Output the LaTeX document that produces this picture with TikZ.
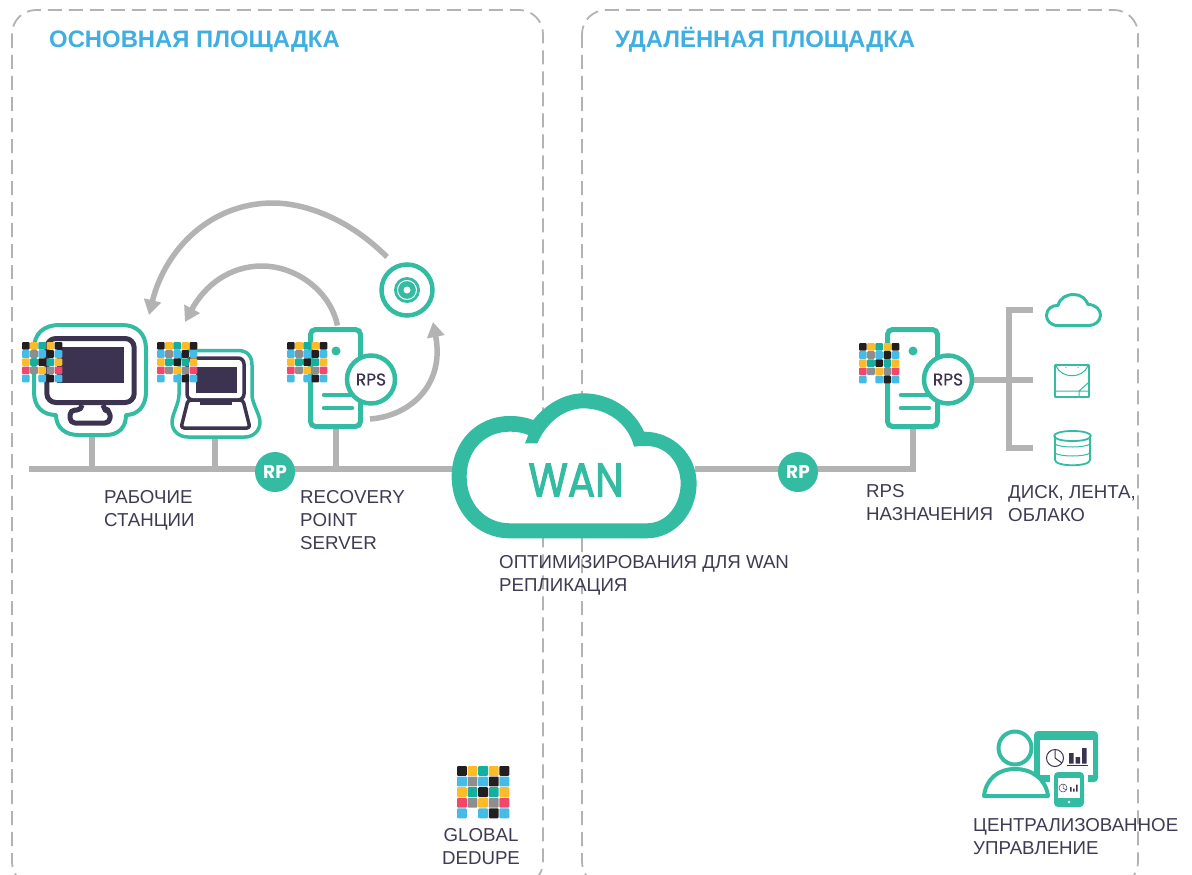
\documentclass[tikz,border=0pt]{standalone}
\usepackage{fontspec}
\usepackage{graphicx}
\setmainfont{Liberation Sans}
\newfontfamily\roundfont[FakeBold=0.5]{Poppins}
\newfontfamily\wanfont[FakeBold=2.5]{Poppins}
\newfontfamily\roundplain{Poppins}
\usetikzlibrary{arrows.meta,backgrounds}
\definecolor{teal1}{HTML}{33BCA2}
\definecolor{greyl}{HTML}{B3B3B3}
\definecolor{ink}{HTML}{3B3350}
\definecolor{head}{HTML}{3FAEE0}
\definecolor{txt}{HTML}{3F3B52}
\definecolor{pk}{HTML}{231F20}
\definecolor{py}{HTML}{FDBB27}
\definecolor{pt}{HTML}{13B0A0}
\definecolor{pb}{HTML}{45BBE8}
\definecolor{pg}{HTML}{8E8E8E}
\definecolor{pr}{HTML}{F0476A}
\tikzset{
 panel/.style={draw=greyl,line width=1.8pt,dash pattern=on 14pt off 7pt,rounded corners=24pt},
 busline/.style={draw=greyl,line width=6pt},
 arcline/.style={draw=greyl,line width=5.5pt,-{Triangle[length=15pt,width=17pt]}},
 rpnode/.style={circle,fill=teal1,text=white,minimum size=40pt,inner sep=0pt,font=\roundplain\bfseries\fontsize{18.5}{18.5}\selectfont},
 rpsnode/.style={circle,draw=teal1,fill=white,line width=4.5pt,text=ink,minimum size=48pt,inner sep=0pt,font=\roundfont\fontsize{17}{17}\selectfont},
 srv/.style={draw=teal1,fill=white,line width=5pt,rounded corners=5pt},
 tl/.style={draw=teal1,line width=4.5pt,line cap=round},
 ic/.style={draw=teal1,line width=2.8pt,line join=round},
 label/.style={text=txt,align=left,anchor=north west,inner sep=0pt,font=\fontsize{18.7}{23}\selectfont},
 headt/.style={text=head,anchor=base west,inner sep=0pt,font=\bfseries\fontsize{23.85}{26}\selectfont},
 pix/.style={rounded corners=1pt},
}
\newcommand{\pixgrid}[3]{% x, y, pitch
 \begin{scope}[shift={(#1,#2)},x=#3pt,y=-#3pt]
  \foreach \c/\i/\j in {pk/0/0,py/1/0,pt/2/0,py/3/0,pk/4/0,
    pb/0/1,pg/1/1,pb/2/1,pk/3/1,pb/4/1,
    py/0/2,pt/1/2,pk/2/2,pt/3/2,py/4/2,
    pr/0/3,pg/1/3,py/2/3,pg/3/3,pr/4/3,
    pb/0/4,pb/2/4,pk/3/4,pb/4/4}
   \fill[\c,pix] (\i,\j) rectangle +(0.93,0.93);
 \end{scope}}
\newcommand{\server}[3]{% x, y, name prefix
 \begin{scope}[shift={(#1,#2)}]
  \draw[srv] (0,0) rectangle (50,97);
  \fill[teal1] (25.5,21.5) circle (4.5);
  \draw[tl] (13.5,65.5) -- (40,65.5);
  \draw[tl] (13.5,78.5) -- (41.5,78.5);
  \node[rpsnode] (#3rps) at (60.5,50) {RPS};
  \coordinate (#3top) at (27,-4);
  \coordinate (#3bot) at (25.5,97);
 \end{scope}}
\begin{document}
\begin{tikzpicture}[x=1pt,y=-1pt]
\useasboundingbox (0,0) rectangle (1192,875);
\begin{pgfonlayer}{background}
\fill[white] (0,0) rectangle (1192,875);
\end{pgfonlayer}
% panels
\begin{scope}
\clip (0,0) rectangle (1192,875);
\draw[panel] (12,10) rectangle (543,886);
\draw[panel] (582,10) rectangle (1138,886);
\end{scope}
\node[headt] (h1) at (49,48) {ОСНОВНАЯ ПЛОЩАДКА};
\node[headt] (h2) at (615,48) {УДАЛЁННАЯ ПЛОЩАДКА};
% WAN cloud
\begin{scope}[shift={(440,380)},x=0.3333pt,y=-0.3333pt]
\fill[white] (210,450) -- (620,450) -- (745,310) -- (600,180) -- (430,60) -- (280,140) -- (210,130) -- (60,290) -- cycle;
\fill[teal1,even odd rule]
 (210,475) .. controls (110,475) and (35,395) .. (35,290)
 .. controls (35,185) and (110,108) .. (210,108)
 .. controls (235,108) and (258,112) .. (280,120)
 .. controls (320,70) and (375,40) .. (430,40)
 .. controls (510,40) and (580,85) .. (612,155)
 .. controls (700,155) and (770,225) .. (770,310)
 .. controls (770,400) and (705,475) .. (620,475) -- cycle
 (210,430) .. controls (135,430) and (80,370) .. (80,290)
 .. controls (80,210) and (135,155) .. (210,155)
 .. controls (228,155) and (250,158) .. (265,165)
 -- (255,190) -- (292,190)
 .. controls (320,125) and (375,85) .. (430,85)
 .. controls (500,85) and (565,130) .. (582,200)
 .. controls (595,198) and (608,198) .. (620,198)
 .. controls (680,198) and (722,250) .. (722,310)
 .. controls (722,375) and (680,430) .. (620,430) -- cycle;
\end{scope}
\node[inner sep=0pt,text=teal1,font=\wanfont\fontsize{47}{47}\selectfont] (wanlabel) at (576,480) {\scalebox{0.86}[1]{WAN}};
\coordinate (wanw) at (453,469);
\coordinate (wane) at (695,469);
% RP badges
\node[rpnode] (rp1) at (275,472) {RP};
\node[rpnode] (rp2) at (798,472) {RP};
% desktop
\coordinate (deskbot) at (92,437);
\draw[draw=teal1,line width=4pt,line join=round]
 (60,325) -- (122,325)
 .. controls (137,325) and (146,334) .. (146,349) -- (146,392)
 .. controls (146,407) and (137,415) .. (126,415)
 .. controls (126,428) and (118,435) .. (106,435) -- (78,435)
 .. controls (66,435) and (56,428) .. (56,415)
 .. controls (43,415) and (34,407) .. (34,392) -- (34,349)
 .. controls (34,334) and (43,325) .. (60,325) -- cycle;
\draw[ink,line width=5pt,rounded corners=9pt] (46.8,338.5) rectangle (134.2,402.5);
\fill[ink] (57,347) rectangle (124,383);
\draw[ink,line width=5pt,line join=round,rounded corners=5pt] (82,405) -- (82,410) -- (70,410) -- (70,423) -- (110,423) -- (110,410) -- (103,410) -- (103,405);
% laptop
\coordinate (lapbot) at (215,438);
\draw[draw=teal1,line width=3.5pt,line join=round]
 (192,350.5) -- (238,350.5) .. controls (247,350.5) and (252,356) .. (252,365)
 -- (252,395) .. controls (252,403) and (260,415) .. (260,422)
 .. controls (260,431) and (253,437) .. (245,437) -- (188,437)
 .. controls (179,437) and (172,431) .. (172,422)
 .. controls (172,415) and (179,403) .. (179,395) -- (179,365)
 .. controls (179,356) and (184,350.5) .. (192,350.5) -- cycle;
\draw[ink,line width=3.5pt,rounded corners=6pt] (187,358) -- (244,358) -- (244,400) -- (187,400) -- cycle;
\fill[ink] (196,367) rectangle (237,393);
\fill[ink] (200,400) rectangle (232,405);
\draw[ink,line width=3.5pt,line join=round,rounded corners=3pt] (188,400) -- (243,400) -- (250,428) -- (181,428) -- cycle;
% servers
\server{310.5}{329.5}{a}
\server{887.5}{329.5}{b}
% disc
\node[circle,draw=teal1,fill=white,line width=4.5pt,minimum size=51pt,inner sep=0pt] (disc) at (407,290) {};
\fill[teal1] (disc.center) circle (13);
\draw[white,line width=1pt] (disc.center) circle (9.5);
\fill[white] (disc.center) circle (3.5);
% pixel grids
\pixgrid{22}{342}{8.17}
\pixgrid{157}{342}{8.17}
\pixgrid{287}{342}{8.17}
\pixgrid{859}{343}{8.17}
\node[minimum size=53pt,inner sep=0pt] (dedupe) at (483,792) {};
\pixgrid{457}{766}{10.6}
% storage icons
\draw[ic,line width=3pt] (1058,325.5) .. controls (1050,325.5) and (1046.5,320) .. (1046.5,315.5)
 .. controls (1046.5,309) and (1052,305) .. (1058,305.5)
 .. controls (1060,298) and (1066,294.5) .. (1074,294.5)
 .. controls (1081,294.5) and (1086,299) .. (1088,304.5)
 .. controls (1096,304.5) and (1100.5,310) .. (1100.5,315)
 .. controls (1100.5,321) and (1095,325.5) .. (1089,325.5) -- cycle;
\coordinate (cloudicon) at (1033,310);
\draw[ic,line width=1.8pt,rounded corners=0.5pt] (1055,365) rectangle (1089,397);
\draw[teal1,line width=1pt] (1056,366) .. controls (1062,379) and (1082,379) .. (1088,366);
\draw[teal1,line width=1pt] (1056,391) -- (1088,391) (1079,391) -- (1079,397) (1079,391) -- (1088,383);
\fill[teal1] (1066,367.5) circle (0.7) (1078,367.5) circle (0.7);
\coordinate (tapeicon) at (1033,379.5);
\draw[ic,line width=1.8pt] (1055,436) -- (1055,460) .. controls (1055,467) and (1090,467) .. (1090,460) -- (1090,436);
\draw[ic,line width=1.8pt] (1072.5,431) .. controls (1097,431) and (1097,441) .. (1072.5,441) .. controls (1048,441) and (1048,431) .. (1072.5,431) -- cycle;
\draw[teal1,line width=1pt] (1055,444) .. controls (1060,448) and (1085,448) .. (1090,444)
 (1055,453) .. controls (1060,457) and (1085,457) .. (1090,453);
\coordinate (diskicon) at (1033,448);
% user / management
\fill[teal1,rounded corners=4pt] (1034,731) rectangle (1098,782);
\fill[white] (1040,740) rectangle (1093,775);
\draw[ic,line width=4pt,fill=white] (1015,748) circle (16.5);
\draw[ic,line width=4pt,fill=white] (984,796) .. controls (986,779) and (998,769) .. (1015,769)
 .. controls (1032,769) and (1046,779) .. (1048,796) -- cycle;
\draw[ink,line width=1pt] (1055,758) circle (8.5);
\draw[ink,line width=1pt] (1055,758) -- (1055,749.5) (1055,758) -- (1062,763) ;
\fill[ink] (1069,753) rectangle (1073.5,763.5) (1075.5,757) rectangle (1080,763.5) (1082,748) rectangle (1086.5,763.5);
\draw[ink,line width=.7pt] (1067,765.5) -- (1088,765.5);
\fill[white] (1050,769) rectangle (1088,785);
\fill[teal1,rounded corners=4pt] (1054,772) rectangle (1084,807);
\fill[white] (1058,778) rectangle (1080,798);
\draw[ink,line width=.5pt] (1063,788) circle (4);
\draw[ink,line width=.5pt] (1063,788) -- (1063,784) (1063,788) -- (1066,790);
\fill[ink] (1070,787) rectangle (1071.5,791.5) (1073,788.5) rectangle (1074.5,791.5) (1076,784.5) rectangle (1077.5,791.5);
\fill[white] (1069,802) circle (1.3);
% labels
\node[label] (l1) at (104,490) {РАБОЧИЕ\\СТАНЦИИ};
\node[label] (l2) at (300,490) {RECOVERY\\POINT\\SERVER};
\node[label] (l3) at (499,555.5) {ОПТИМИЗИРОВАНИЯ ДЛЯ WAN\\РЕПЛИКАЦИЯ};
\node[label] (l4) at (866,484.5) {RPS\\НАЗНАЧЕНИЯ};
\node[label] (l5) at (1008,485.5) {ДИСК, ЛЕНТА,\\ОБЛАКО};
\node[label,align=center,anchor=north] (l6) at (481,828) {GLOBAL\\DEDUPE};
\node[label] (l7) at (973,818.5) {ЦЕНТРАЛИЗОВАННОЕ\\УПРАВЛЕНИЕ};
% arcs
\coordinate (arcstart) at (387,257);
\coordinate (tipa) at (149,315);
\coordinate (tipb) at (185,322);
\coordinate (tipc) at (433,322);
\coordinate (srvout) at (370,419);
\draw[arcline] (arcstart) .. controls (345,215) and (300,203) .. (273,203) .. controls (210,203) and (165,250) .. (tipa);
\draw[arcline] (atop) .. controls (330,290) and (295,266) .. (262,266) .. controls (230,266) and (205,285) .. (tipb);
\draw[arcline] (srvout) .. controls (410,416) and (445,385) .. (tipc);
% buses
\begin{pgfonlayer}{background}
\coordinate (busstart) at (29,469);
\draw[busline] (busstart) -- (wanw);
\draw[busline,line join=miter] (wane) -- (913,469) -- (bbot);
\draw[busline] (deskbot) -- (deskbot |- busstart);
\draw[busline] (lapbot) -- (lapbot |- busstart);
\draw[busline] (abot) -- (abot |- busstart);
\draw[busline] (brps) -- (tapeicon);
\draw[busline,line join=miter] (cloudicon) -- (cloudicon -| 1009,0) -- (diskicon -| 1009,0) -- (diskicon);
\end{pgfonlayer}
\end{tikzpicture}
\end{document}
